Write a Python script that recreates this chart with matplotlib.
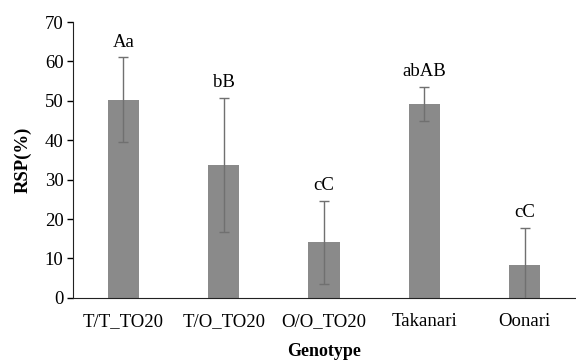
import matplotlib
matplotlib.use("Agg")
import matplotlib.pyplot as plt
import numpy as np

# data
genotypes = ["T/T_TO20", "T/O_TO20", "O/O_TO20", "Takanari", "Oonari"]
rsp_mean = [50.3, 33.8, 14.1, 49.2, 8.3]
rsp_err = [10.7, 17.0, 10.6, 4.3, 9.5]
letters = ["Aa", "bB", "cC", "abAB", "cC"]

plt.rcParams['font.family'] = ['Liberation Serif', 'DejaVu Serif']
fs = 13.5

fig = plt.figure(figsize=(5.76, 3.61), dpi=100)
ax = fig.add_axes([0.127, 0.175, 0.871, 0.764])

x = np.arange(len(genotypes))
ax.bar(x, rsp_mean, width=0.31, color='#8a8a8a', zorder=2)
ax.errorbar(x, rsp_mean, yerr=rsp_err, fmt='none', ecolor='#707070',
            elinewidth=1.0, capsize=3.5, capthick=1.0, zorder=3)

# significance letters above each error bar
for xi, m, e, lab in zip(x, rsp_mean, rsp_err, letters):
    ax.text(xi, m + e + 3.9, lab, ha='center', va='center', fontsize=fs)

ax.set_xlim(-0.5, len(genotypes) - 0.5)
ax.set_ylim(0, 70)
ax.set_yticks(range(0, 71, 10))
ax.set_xticks(x)
ax.set_xticklabels(genotypes)

ax.spines['top'].set_visible(False)
ax.spines['right'].set_visible(False)
ax.spines['left'].set_color('#222222')
ax.spines['bottom'].set_color('#222222')
ax.tick_params(axis='y', direction='out', length=4, width=1, labelsize=fs, pad=3)
ax.tick_params(axis='x', length=0, labelsize=fs, pad=11)

ax.set_ylabel('RSP(%)', fontsize=fs, fontweight='bold', labelpad=9)
ax.set_xlabel('Genotype', fontsize=13, fontweight='bold', labelpad=9)

fig.savefig('out.png', dpi=100)
